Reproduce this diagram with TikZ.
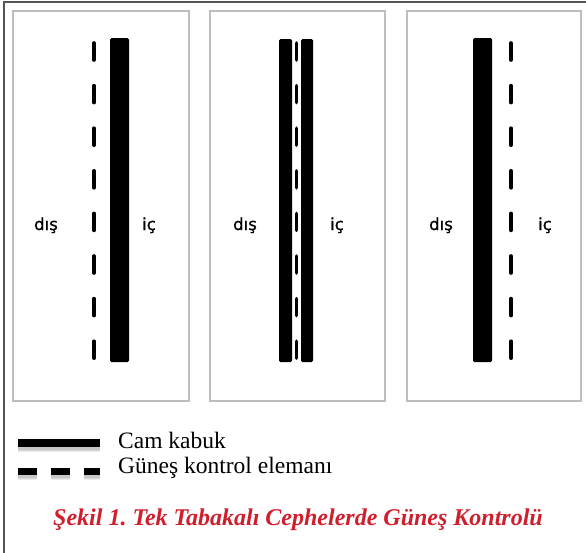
\documentclass[tikz,border=0pt]{standalone}
\usepackage{fontspec}
\setmainfont{Liberation Serif}
\newfontfamily\labfont[FakeBold=0.8]{DejaVu Sans}
\definecolor{capred}{HTML}{D01E2C}
\definecolor{framegray}{HTML}{555555}
\definecolor{panelgray}{HTML}{BDBDBD}
\frenchspacing
\begin{document}
\begin{tikzpicture}[x=1pt,y=-1pt,
  panel/.style={draw=panelgray,line width=1.2pt,fill=white},
  glass/.style={fill=black,rounded corners=1.5pt},
  ctrl/.style={line width=3.6pt,line cap=round,dash pattern=on 17pt off 25.6pt},
  side/.style={font=\labfont\fontsize{16.5}{18}\selectfont,anchor=base},
  legtext/.style={font=\fontsize{23.5}{26}\selectfont,anchor=base west,inner sep=0pt},
  shadowline/.style={black,opacity=0.08}]
\useasboundingbox (0,0) rectangle (586,552);
\fill[white] (0,0) rectangle (586,552);
% outer frame
\draw[framegray,line width=1.6pt] (4,553) -- (4,2) -- (587,2);
% panels
\draw[panel] (13,11) rectangle (189,401);
\draw[panel] (210,11) rectangle (385,401);
\draw[panel] (407,11) rectangle (581,401);
% panel 1
\fill[glass] (110,38) rectangle (129,362);
\draw[ctrl] (94,43) -- (94,359);
\node[side] (d1) at (46,230) {dış};
\node[side] (i1) at (149,230) {iç};
% panel 2
\fill[glass] (279,39) rectangle (292,362);
\fill[glass] (301,39) rectangle (313,362);
\draw[ctrl] (296.5,43) -- (296.5,359);
\node[side] (d2) at (245,230) {dış};
\node[side] (i2) at (337,230) {iç};
% panel 3
\fill[glass] (473,38) rectangle (492,362);
\draw[ctrl] (511,43) -- (511,359);
\node[side] (d3) at (441,230) {dış};
\node[side] (i3) at (545,230) {iç};
% legend
\coordinate (ls1) at (18,443);
\coordinate (le1) at (100,443);
\coordinate (ls2) at (18,471);
\coordinate (le2) at (100,471);
\foreach \w in {12,10,8}{
  \draw[shadowline,line width=\w pt] ([yshift=-3pt]ls1) -- ([yshift=-3pt]le1);
  \draw[shadowline,line width=\w pt,dash pattern=on 19pt off 14pt] ([yshift=-3pt]ls2) -- ([yshift=-3pt]le2);
}
\draw[line width=8pt] (ls1) -- (le1);
\draw[line width=7pt,dash pattern=on 19pt off 14pt] (ls2) -- (le2);
\node[legtext] (t1) at (118,448) {Cam kabuk};
\node[legtext] (t2) at (118,473) {Güneş kontrol elemanı};
% caption
\node[font=\fontsize{24}{26}\bfseries\itshape\selectfont,text=capred,anchor=base,inner sep=0pt] (cap) at (298,525) {Şekil 1. Tek Tabakalı Cephelerde Güneş Kontrolü};
\end{tikzpicture}
\end{document}
